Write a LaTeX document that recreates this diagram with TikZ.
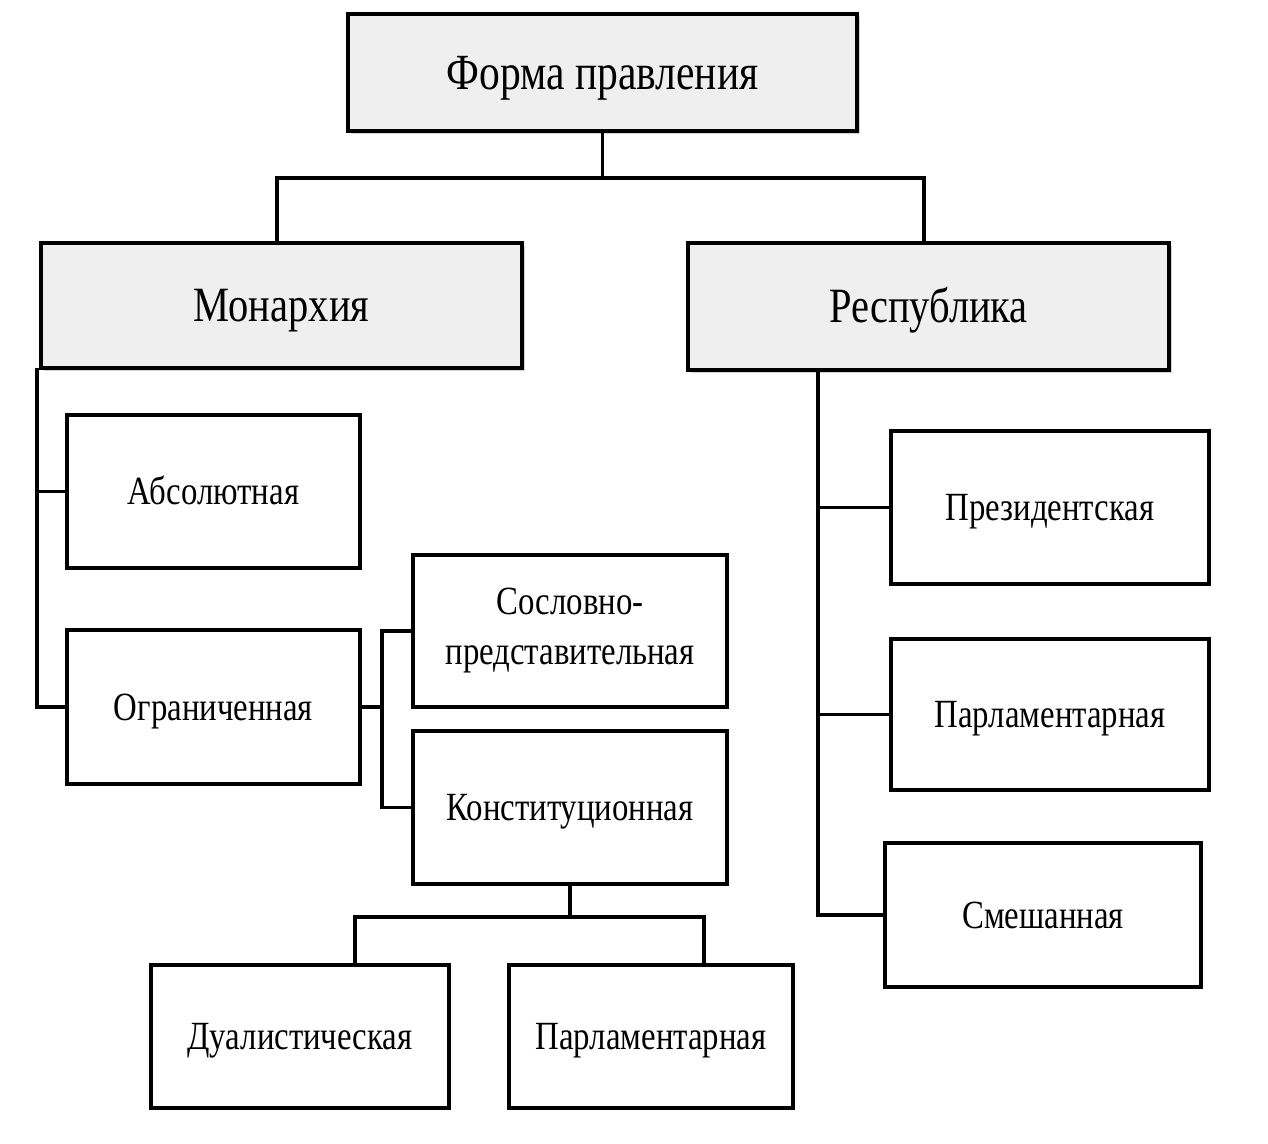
\documentclass[tikz,border=0pt]{standalone}
\usepackage{fontspec}
\setmainfont{Liberation Serif}[FakeStretch=0.82]
\usetikzlibrary{shadows,calc}
\definecolor{boxgray}{HTML}{EFEFEF}
\tikzset{
  sz/.style 2 args={minimum width=#1*0.75pt, minimum height=#2*0.75pt},
  wbox/.style={draw=black, line width=2.8pt, fill=white, inner sep=0pt, align=center},
  gbox/.style={wbox, fill=boxgray, drop shadow={shadow xshift=2.5pt, shadow yshift=-2.5pt, opacity=0.35, fill=gray}},
  small/.style={font=\fontsize{30}{34}\selectfont, text height=19.8pt, text depth=0pt},
  smalltwo/.style={font=\fontsize{30}{37.5}\selectfont},
  big/.style={font=\fontsize{37}{42}\selectfont, text height=24.5pt, text depth=0pt},
  title/.style={font=\fontsize{38}{42}\selectfont, text height=25.2pt, text depth=0pt},
  conn/.style={line width=2.6pt, line cap=rect}
}
\begin{document}
\begin{tikzpicture}[x=0.75pt, y=-0.75pt]
\useasboundingbox (0,0) rectangle (1268,1144);
\node[gbox, title, sz={509}{117}] (top) at (602.5,72.5) {Форма правления};
\node[gbox, big, sz={481}{125}] (mon) at (281.5,305.5) {Монархия};
\node[gbox, big, sz={481}{127}] (rep) at (928.5,306.5) {Республика};
\node[wbox, small, sz={293}{153}] (abs) at (213.5,491.5) {Абсолютная};
\node[wbox, small, sz={293}{154}] (ogr) at (213.5,707) {Ограниченная};
\node[wbox, smalltwo, sz={314}{152}] (sos) at (570,631) {Сословно-\\представительная};
\node[wbox, small, sz={314}{153}] (kon) at (570,807.5) {Конституционная};
\node[wbox, small, sz={298}{143}] (dua) at (300,1036.5) {Дуалистическая};
\node[wbox, small, sz={284}{143}] (parA) at (651,1036.5) {Парламентарная};
\node[wbox, small, sz={318}{153}] (pres) at (1050,507.5) {Президентская};
\node[wbox, small, sz={318}{151}] (parB) at (1050,714.5) {Парламентарная};
\node[wbox, small, sz={316}{144}] (sme) at (1043,915) {Смешанная};
% top level
\coordinate (j1) at ($(top.south)+(0,45)$);
\draw[conn] (top.south) -- (j1);
\draw[conn] ($(mon.north)+(-4.5,0)$) |- (j1) -| ($(rep.north)+(-4.5,0)$);
% monarchy
\coordinate (m0) at ($(mon.south west)+(-2,0)$);
\draw[conn] (m0) |- (ogr.west);
\draw[conn] (abs.west) -- (abs.west -| m0);
% limited
\coordinate (l0) at ($(ogr.east)+(20,0)$);
\draw[conn] (ogr.east) -- (l0);
\draw[conn] (sos.west) -| (l0) |- (kon.west);
% constitutional
\coordinate (j2) at ($(kon.south)+(0,31)$);
\draw[conn] (kon.south) -- (j2);
\draw[conn] ($(dua.north)+(55,0)$) |- (j2) -| ($(parA.north)+(53,0)$);
% republic
\coordinate (r0) at ($(rep.south west)+(132,0)$);
\draw[conn] (r0) |- (sme.west);
\draw[conn] (pres.west) -- (pres.west -| r0);
\draw[conn] (parB.west) -- (parB.west -| r0);
\end{tikzpicture}
\end{document}
